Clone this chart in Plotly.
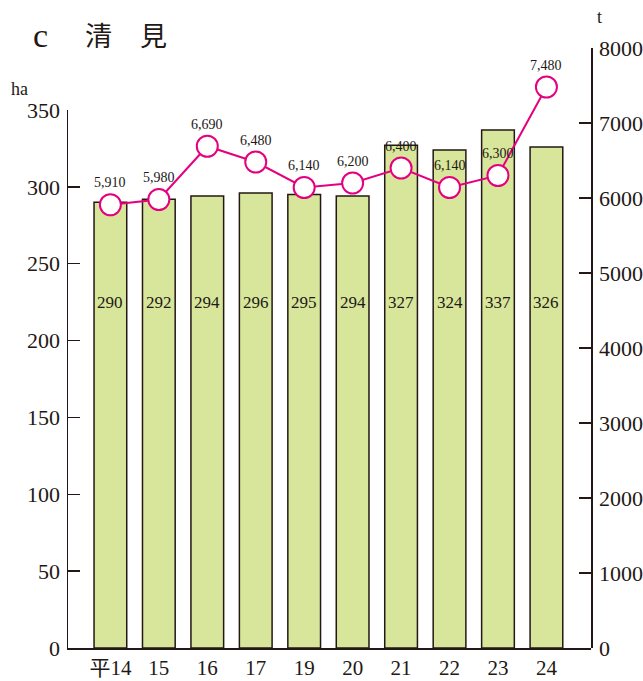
import plotly.graph_objects as go

years = ["平14", "15", "16", "17", "19", "20", "21", "22", "23", "24"]
area_ha = [290, 292, 294, 296, 295, 294, 327, 324, 337, 326]
harvest_t = [5910, 5980, 6690, 6480, 6140, 6200, 6400, 6140, 6300, 7480]

left_ticks = [0, 50, 100, 150, 200, 250, 300, 350]
right_ticks = [0, 1000, 2000, 3000, 4000, 5000, 6000, 7000, 8000]

INK = "#231815"
MAGENTA = "#e4007f"
BAR = "#d7e69a"
SERIF = "Liberation Serif, 'Noto Sans CJK JP', serif"

W, H = 643, 681
PL, PR, PT, PB = 68, 591, 48, 648  # plot area in window pixels
ML, MR, MT, MB = PL, W - PR, PT, H - PB
PW, PH = PR - PL, PB - PT


def px(x):
    return (x - PL) / PW


def py(y):
    return (PB - y) / PH


xs = list(range(len(years)))

fig = go.Figure()
fig.add_trace(go.Bar(
    x=xs, y=area_ha, width=0.675,
    marker=dict(color=BAR, line=dict(color=INK, width=1.5)),
    xaxis="x", yaxis="y", showlegend=False, hoverinfo="skip",
))
fig.add_trace(go.Scatter(
    x=xs, y=harvest_t, mode="lines+markers",
    line=dict(color=MAGENTA, width=2),
    marker=dict(symbol="circle", size=21, color="white",
                line=dict(color=MAGENTA, width=2)),
    xaxis="x", yaxis="y2", showlegend=False, hoverinfo="skip",
))

annotations = []
for i, v in enumerate(area_ha):
    annotations.append(dict(x=i, y=225, xref="x", yref="y", text=str(v),
                            showarrow=False, xanchor="center", yanchor="middle",
                            font=dict(family=SERIF, size=17, color=INK)))
for i, v in enumerate(harvest_t):
    annotations.append(dict(x=i, y=v, xref="x", yref="y2", text=f"{v:,}",
                            showarrow=False, yshift=22, xanchor="center", yanchor="middle",
                            font=dict(family=SERIF, size=14, color=INK)))


def label(x, y, text, family, size):
    return dict(x=px(x), y=py(y), xref="paper", yref="paper", text=text,
                showarrow=False, xanchor="center", yanchor="middle",
                font=dict(family=family, size=size, color=INK))


annotations += [
    label(40, 36, "c", SERIF, 34),
    label(98, 35, "清", "'Noto Sans CJK JP'", 27),
    label(153, 35, "見", "'Noto Sans CJK JP'", 27),
    label(19, 89, "ha", SERIF, 18),
    label(599, 17, "t", SERIF, 18),
]

fig.update_layout(
    width=W, height=H,
    margin=dict(l=ML, r=MR, t=MT, b=MB, pad=0, autoexpand=False),
    paper_bgcolor="white", plot_bgcolor="rgba(0,0,0,0)",
    bargap=0,
    xaxis=dict(
        domain=[0, 1], anchor="y",
        range=[-0.875, 9.92],
        tickmode="array", tickvals=xs, ticktext=years,
        ticks="", showgrid=False, zeroline=False,
        showline=True, linecolor=INK, linewidth=1.5,
        tickfont=dict(family=SERIF, size=21, color=INK),
        automargin=False, fixedrange=True,
    ),
    yaxis=dict(
        domain=[0, 538 / 600], anchor="x", side="left",
        range=[0, 350],
        tickmode="array", tickvals=left_ticks,
        ticks="inside", ticklen=12, tickwidth=1.5, tickcolor=INK,
        showgrid=False, zeroline=False,
        showline=True, linecolor=INK, linewidth=1.5,
        tickfont=dict(family=SERIF, size=22, color=INK),
        ticklabelstandoff=2, automargin=False,
    ),
    yaxis2=dict(
        domain=[0, 1], anchor="x", side="right",
        range=[0, 8000],
        tickmode="array", tickvals=right_ticks,
        ticks="inside", ticklen=12, tickwidth=1.5, tickcolor=INK,
        showgrid=False, zeroline=False,
        showline=True, linecolor=INK, linewidth=1.5,
        tickfont=dict(family=SERIF, size=22, color=INK),
        ticklabelstandoff=2, automargin=False,
    ),
    annotations=annotations,
)

fig.write_html(
    "out.html",
    config={"displayModeBar": False, "staticPlot": True},
    post_script="document.body.style.margin='0';document.body.style.overflow='hidden';",
)
